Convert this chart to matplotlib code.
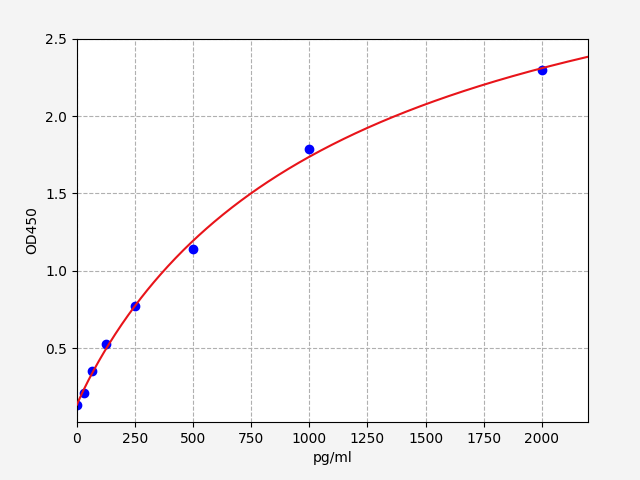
import numpy as np
import matplotlib
matplotlib.use("Agg")
import matplotlib.pyplot as plt

conc = [0, 31.25, 62.5, 125, 250, 500, 1000, 2000]
od = [0.132, 0.21, 0.351, 0.526, 0.771, 1.14, 1.786, 2.296]


def fit_4pl(x, y):
    # crude 4PL fit: grid over b, c; a and d solved linearly
    x = np.asarray(x, float)
    y = np.asarray(y, float)
    best = None
    for b in np.linspace(0.5, 2.0, 151):
        for c in np.linspace(200, 4000, 381):
            g = 1.0 / (1.0 + (x / c) ** b)
            A = np.column_stack([g, 1 - g])
            coef, *_ = np.linalg.lstsq(A, y, rcond=None)
            err = np.sum((A @ coef - y) ** 2)
            if best is None or err < best[0]:
                best = (err, coef[0], b, c, coef[1])
    return best[1:]


a, b, c, d = fit_4pl(conc, od)
xs = np.linspace(0, 2200, 400)
ys = d + (a - d) / (1 + (xs / c) ** b)

fig, ax = plt.subplots(figsize=(6.4, 4.8), dpi=100)
fig.subplots_adjust(left=0.1203, right=0.919, bottom=0.121, top=0.919)
fig.patch.set_facecolor("#f4f4f4")
ax.plot(conc, od, "o", color="blue", zorder=2)
ax.plot(xs, ys, color="#e8141a", zorder=3)
ax.set_xlim(0, 2200)
ax.set_ylim(0.022, 2.5)
ax.set_yticks([0.5, 1.0, 1.5, 2.0, 2.5])
ax.grid(True, linestyle="--", color="#b0b0b0")
ax.set_xlabel("pg/ml")
ax.set_ylabel("OD450")
fig.savefig("out.png")
